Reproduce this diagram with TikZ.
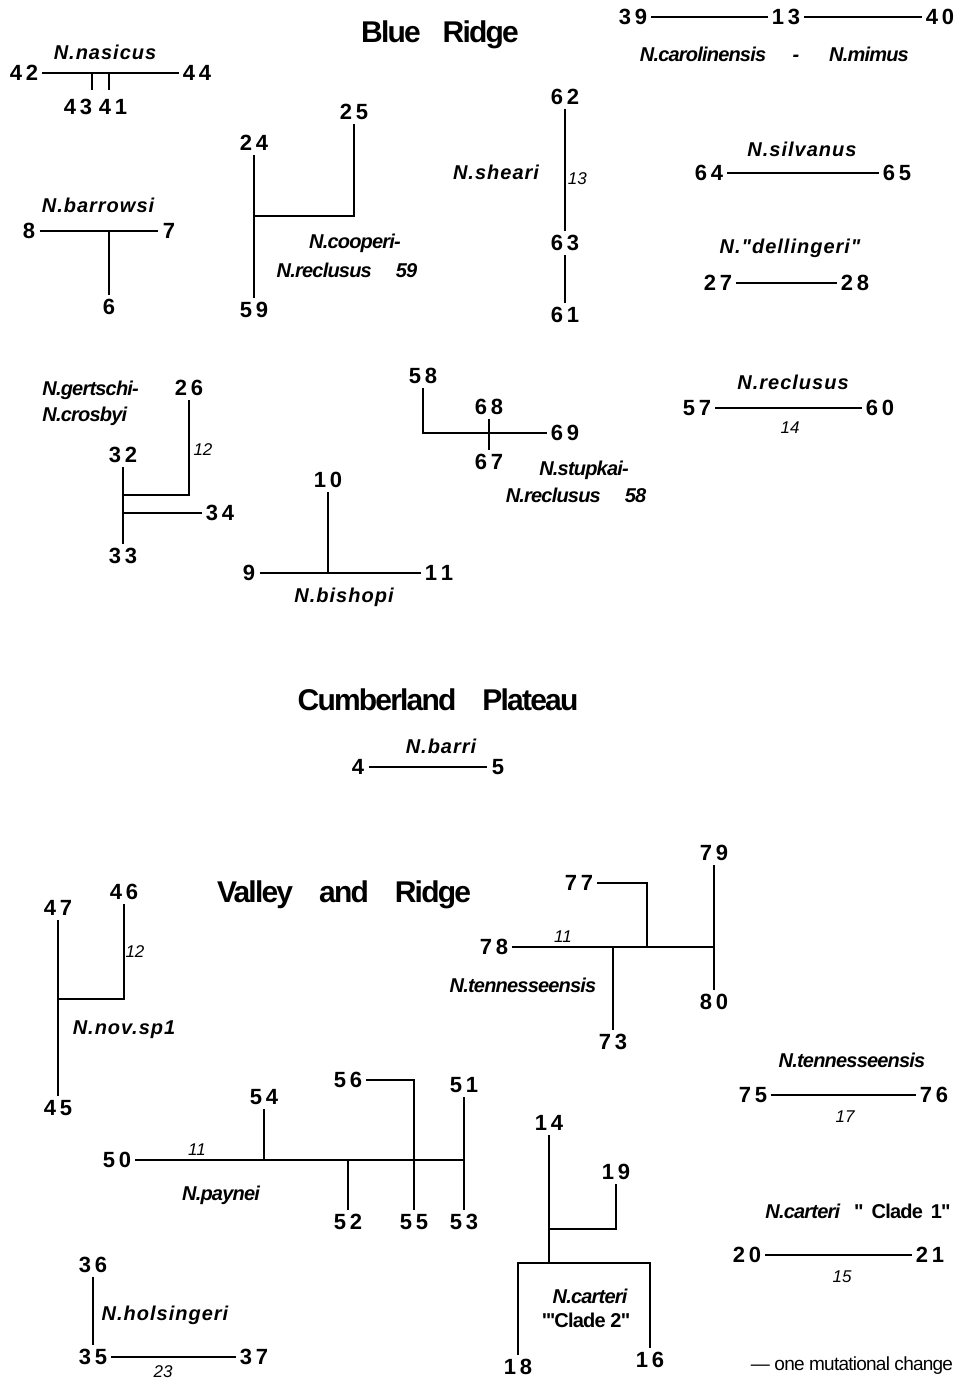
\documentclass[tikz,border=0pt]{standalone}
\usepackage{fontspec}
\setmainfont{Liberation Sans}
\newfontfamily\tightfont[LetterSpace=-4]{Liberation Sans}
\newfontfamily\widefont[LetterSpace=5]{Liberation Sans}
\newfontfamily\titlefont[LetterSpace=-6]{Liberation Sans}

\tikzset{
  hap/.style={font=\fontsize{11}{12}\selectfont\bfseries, inner sep=2pt},   % haplotype numbers
  spec/.style={font=\widefont\fontsize{10}{11}\selectfont\bfseries\itshape, inner sep=0pt},
  specn/.style={font=\tightfont\fontsize{10}{11}\selectfont\bfseries\itshape, inner sep=0pt},
  clade/.style={font=\tightfont\fontsize{10}{11}\selectfont\bfseries, inner sep=0pt},
  steps/.style={font=\fontsize{8.5}{10}\selectfont\itshape, inner sep=1pt},   % number of changes
  region/.style={font=\titlefont\fontsize{15}{17}\selectfont\bfseries, inner sep=0pt},
  link/.style={line width=0.8pt},
}

\begin{document}
\begin{tikzpicture}[x=0.5pt,y=-0.5pt]
	\useasboundingbox (0,0) rectangle (964,1380);

	% region titles
	\node[region] (blue) at (440,35) {Blue\hspace{11pt}Ridge};
	\node[region] (cumb) at (438,700) {Cumberland\hspace{13pt}Plateau};
	\node[region] (vall) at (344,895) {Valley\hspace{13pt}and\hspace{13pt}Ridge};

	% ---- Blue Ridge ----
	% N. carolinensis - N. mimus
	\node[hap] (n39) at (633,17) {3\,9};
	\node[hap] (n13) at (786,17) {1\,3};
	\node[hap] (n40) at (940,17) {4\,0};
	\draw[link] (n39) -- (n13) -- (n40);
	\node[specn, anchor=base] (carol) at (703,62) {N.carolinensis};
	\node[specn, anchor=base] (dash) at (796,62) {-};
	\node[specn, anchor=base] (mimus) at (869,62) {N.mimus};

	% N. nasicus
	\node[spec] (nasic) at (105,52) {N.nasicus};
	\node[hap] (n42) at (24,73) {4\,2};
	\node[hap] (n44) at (197,73) {4\,4};
	\draw[link] (n42) -- (n44);
	\node[hap] (n43) at (78,107) {4\,3};
	\node[hap] (n41) at (113,107) {4\,1};
	\coordinate (j43) at (92,73);
	\coordinate (j41) at (109,73);
	\coordinate (t43) at (92,90);
	\coordinate (t41) at (109,90);
	\draw[link] (j43) -- (t43);
	\draw[link] (j41) -- (t41);

	% N. barrowsi
	\node[spec] (barro) at (98,205) {N.barrowsi};
	\node[hap] (n8) at (29,231) {8};
	\node[hap] (n7) at (169,231) {7};
	\node[hap] (n6) at (109,307) {6};
	\coordinate (j6) at (109,231);
	\draw[link] (n8) -- (n7);
	\draw[link] (j6) -- (n6);

	% N. cooperi - N. reclusus
	\node[hap] (n24) at (254,143) {2\,4};
	\node[hap] (n59) at (254,310) {5\,9};
	\node[hap] (n25) at (354,112) {2\,5};
	\coordinate (j24) at (254,216);
	\coordinate (j25) at (354,216);
	\draw[link] (n24) -- (n59);
	\draw[link] (j24) -- (j25) -- (n25);
	\node[specn] (coop) at (355,243) {N.cooperi-};
	\node[specn] (coop2) at (347,270) {N.reclusus\hspace{12pt}59};

	% N. sheari
	\node[spec] (shea) at (496,172) {N.sheari};
	\node[hap] (n62) at (565,97) {6\,2};
	\node[hap] (n63) at (565,243) {6\,3};
	\node[hap] (n61) at (565,315) {6\,1};
	\draw[link] (n62) -- (n63) node[steps, pos=0.57, right] {13};
	\draw[link] (n63) -- (n61);

	% N. silvanus
	\node[spec] (silv) at (802,149) {N.silvanus};
	\node[hap] (n64) at (709,173) {6\,4};
	\node[hap] (n65) at (897,173) {6\,5};
	\draw[link] (n64) -- (n65);

	% N. "dellingeri"
	\node[spec] (dell) at (790,248) {N."dellingeri"};
	\node[hap] (n27) at (718,283) {2\,7};
	\node[hap] (n28) at (855,283) {2\,8};
	\draw[link] (n27) -- (n28);

	% N. gertschi - N. crosbyi
	\node[specn, anchor=base west] (gert) at (42,395) {N.gertschi-};
	\node[specn, anchor=base west] (cros) at (42,421) {N.crosbyi};
	\node[hap] (n26) at (189,388) {2\,6};
	\node[hap] (n32) at (123,455) {3\,2};
	\node[hap] (n33) at (123,556) {3\,3};
	\node[hap] (n34) at (220,513) {3\,4};
	\coordinate (j26) at (189,495);
	\coordinate (j32) at (123,495);
	\coordinate (j34) at (123,513);
	\draw[link] (n32) -- (n33);
	\draw[link] (j32) -- (j26) -- (n26);
	\draw[link] (j34) -- (n34);
	\node[steps] (c12a) at (203,450) {12};

	% N. bishopi
	\node[hap] (n10) at (328,480) {1\,0};
	\node[hap] (n9) at (249,573) {9};
	\node[hap] (n11) at (439,573) {1\,1};
	\coordinate (j10) at (328,573);
	\draw[link] (n9) -- (n11);
	\draw[link] (j10) -- (n10);
	\node[spec] (bish) at (344,597) {N.bishopi};

	% N. stupkai - N. reclusus
	\node[hap] (n58) at (423,376) {5\,8};
	\node[hap] (n69) at (565,433) {6\,9};
	\node[hap] (n68) at (489,407) {6\,8};
	\node[hap] (n67) at (489,462) {6\,7};
	\coordinate (j58) at (423,433);
	\draw[link] (n58) -- (j58) -- (n69);
	\draw[link] (n68) -- (n67);
	\node[specn] (stup) at (584,470) {N.stupkai-};
	\node[specn] (stup2) at (576,495) {N.reclusus\hspace{12pt}58};

	% N. reclusus
	\node[spec] (recl) at (793,382) {N.reclusus};
	\node[hap] (n57) at (697,408) {5\,7};
	\node[hap] (n60) at (880,408) {6\,0};
	\draw[link] (n57) -- (n60);
	\node[steps] (c14) at (790,428) {14};

	% ---- Cumberland Plateau ----
	\node[spec] (barri) at (441,746) {N.barri};
	\node[hap] (n4) at (358,767) {4};
	\node[hap] (n5) at (498,767) {5};
	\draw[link] (n4) -- (n5);

	% ---- Valley and Ridge ----
	% N. tennesseensis
	\node[hap] (n79) at (714,853) {7\,9};
	\node[hap] (n80) at (714,1002) {8\,0};
	\node[hap] (n77) at (579,883) {7\,7};
	\node[hap] (n78) at (494,947) {7\,8};
	\node[hap] (n73) at (613,1042) {7\,3};
	\coordinate (j79) at (714,947);
	\coordinate (j77) at (647,883);
	\coordinate (j77b) at (647,947);
	\coordinate (j73) at (613,947);
	\draw[link] (n78) -- (j79);
	\draw[link] (n79) -- (n80);
	\draw[link] (n77) -- (j77) -- (j77b);
	\draw[link] (j73) -- (n73);
	\node[steps] (c11a) at (563,937) {11};
	\node[specn] (tenn) at (523,985) {N.tennesseensis};

	% N. nov. sp1
	\node[hap] (n47) at (58,908) {4\,7};
	\node[hap] (n45) at (58,1108) {4\,5};
	\node[hap] (n46) at (124,892) {4\,6};
	\coordinate (j46) at (124,999);
	\coordinate (j47) at (58,999);
	\draw[link] (n47) -- (n45);
	\draw[link] (n46) -- (j46) -- (j47);
	\node[steps] (c12b) at (135,952) {12};
	\node[spec] (nov) at (124,1030) {N.nov.sp1};

	\node[specn] (tenn2) at (852,1060) {N.tennesseensis};
	\node[hap] (n75) at (753,1095) {7\,5};
	\node[hap] (n76) at (934,1095) {7\,6};
	\draw[link] (n75) -- (n76);
	\node[steps] (c17) at (845,1117) {17};

	% N. paynei
	\node[hap] (n50) at (117,1160) {5\,0};
	\node[hap] (n51) at (464,1085) {5\,1};
	\node[hap] (n53) at (464,1222) {5\,3};
	\node[hap] (n54) at (264,1097) {5\,4};
	\node[hap] (n56) at (348,1080) {5\,6};
	\node[hap] (n55) at (414,1222) {5\,5};
	\node[hap] (n52) at (348,1222) {5\,2};
	\coordinate (j53) at (464,1160);
	\coordinate (j54) at (264,1160);
	\coordinate (j56) at (414,1080);
	\coordinate (j52) at (348,1160);
	\draw[link] (n50) -- (j53);
	\draw[link] (n51) -- (n53);
	\draw[link] (n54) -- (j54);
	\draw[link] (n56) -- (j56) -- (n55);
	\draw[link] (j52) -- (n52);
	\node[steps] (c11b) at (197,1150) {11};
	\node[specn] (payn) at (221,1195) {N.paynei};

	% N. carteri "Clade 2"
	\node[hap] (n14) at (549,1123) {1\,4};
	\node[hap] (n19) at (616,1172) {1\,9};
	\node[hap] (n18) at (518,1367) {1\,8};
	\node[hap] (n16) at (650,1360) {1\,6};
	\coordinate (j14) at (549,1263);
	\coordinate (j19) at (616,1229);
	\coordinate (j19b) at (549,1229);
	\coordinate (j18) at (518,1263);
	\coordinate (j16) at (650,1263);
	\draw[link] (n14) -- (j14);
	\draw[link] (n19) -- (j19) -- (j19b);
	\draw[link] (n18) -- (j18) -- (j16) -- (n16);
	\node[specn] (cart) at (590,1296) {N.carteri};
	\node[clade] (clad2) at (586,1320) {"'Clade 2"};

	% N. carteri "Clade 1"
	\node[clade] (clad1) at (858,1211) {{\itshape N.carteri}\hspace{7pt}"\hspace{4pt}Clade\hspace{4pt}1"};
	\node[hap] (n20) at (747,1255) {2\,0};
	\node[hap] (n21) at (930,1255) {2\,1};
	\draw[link] (n20) -- (n21);
	\node[steps] (c15) at (842,1277) {15};

	% N. holsingeri
	\node[hap] (n36) at (93,1265) {3\,6};
	\node[hap] (n35) at (93,1357) {3\,5};
	\node[hap] (n37) at (254,1357) {3\,7};
	\draw[link] (n36) -- (n35);
	\draw[link] (n35) -- (n37);
	\node[spec] (hols) at (165,1315) {N.holsingeri};
	\node[steps] (c23) at (163,1372) {23};

	% scale
	\node[font=\tightfont\fontsize{9.5}{11}\selectfont] (scale) at (852,1366) {— one mutational change};
\end{tikzpicture}
\end{document}
